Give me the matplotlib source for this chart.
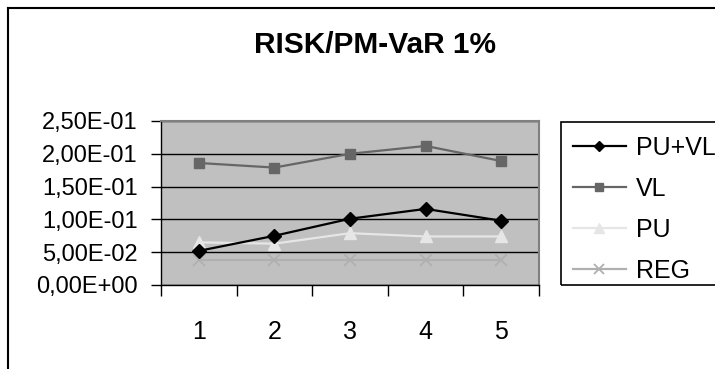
import matplotlib.pyplot as plt
from matplotlib.lines import Line2D
from matplotlib.patches import Rectangle

plt.rcParams['font.family'] = ['Liberation Sans', 'DejaVu Sans']

# periods on the x axis
periods = ['1', '2', '3', '4', '5']

# risk series
pu_vl = [0.052, 0.075, 0.101, 0.116, 0.098]
vl = [0.186, 0.179, 0.200, 0.212, 0.189]
pu = [0.065, 0.063, 0.079, 0.074, 0.074]
reg = [0.038, 0.038, 0.038, 0.038, 0.038]

yticks = [0.0, 0.05, 0.10, 0.15, 0.20, 0.25]
ytick_labels = ['0,00E+00', '5,00E-02', '1,00E-01', '1,50E-01', '2,00E-01', '2,50E-01']

fig = plt.figure(figsize=(7.15, 3.69), dpi=100)
ax = fig.add_axes([161/715, 1-285/369, 378/715, 164/369])
ax.set_facecolor('#c0c0c0')

x = [i + 0.5 for i in range(len(periods))]
ax.plot(x, pu_vl, color='black', lw=1.6, marker='D', ms=7, label='PU+VL', zorder=5)
ax.plot(x, vl, color='#666666', lw=1.6, marker='s', ms=7.5, label='VL', zorder=4)
ax.plot(x, pu, color='#e6e6e6', lw=1.6, marker='^', ms=9, label='PU', zorder=3)
ax.plot(x, reg, color='#b0b0b0', lw=1.6, marker='x', ms=9, mew=1.3, label='REG', zorder=2)

ax.set_xlim(0, len(periods))
ax.set_ylim(0, 0.25)
ax.set_yticks(yticks)
ax.set_yticklabels(ytick_labels, fontsize=17)
ax.yaxis.grid(True, color='black', lw=1)
ax.set_axisbelow(True)

# category ticks sit between the categories, labels in the middle
ax.set_xticks(range(len(periods) + 1))
ax.set_xticklabels([])
ax.set_xticks(x, minor=True)
ax.set_xticklabels(periods, minor=True, fontsize=18)
ax.tick_params(axis='x', which='minor', length=0, pad=25)
ax.tick_params(axis='x', which='major', direction='out', length=8, width=1)
ax.tick_params(axis='y', direction='out', length=7, width=1, pad=10)

for side in ['top', 'right']:
    ax.spines[side].set_color('#808080')
    ax.spines[side].set_linewidth(1.5)
for side in ['left', 'bottom']:
    ax.spines[side].set_color('black')
    ax.spines[side].set_linewidth(1)

fig.text(375/715, 1-45/369, 'RISK/PM-VaR 1%', ha='center', va='center',
         fontsize=21.5, fontweight='bold')

# legend box and entries
fig.patches.append(Rectangle((561/715, 1-285/369), 0.3, 163/369,
                             transform=fig.transFigure, fill=False,
                             edgecolor='black', lw=1.2))
handles, labels = ax.get_legend_handles_labels()
leg = fig.legend(handles, labels, loc='upper left',
                 bbox_to_anchor=(563/715, 1-126/369), frameon=False,
                 fontsize=18, handlelength=2.1, handletextpad=0.4,
                 labelspacing=0.68, markerscale=0.75, borderaxespad=0)

# outer frame
fig.add_artist(Line2D([8/715, 1], [1-8/369, 1-8/369], transform=fig.transFigure,
                      color='black', lw=1.5))
fig.add_artist(Line2D([8/715, 8/715], [0, 1-8/369], transform=fig.transFigure,
                      color='black', lw=1.5))

fig.savefig('out.png', dpi=100)
